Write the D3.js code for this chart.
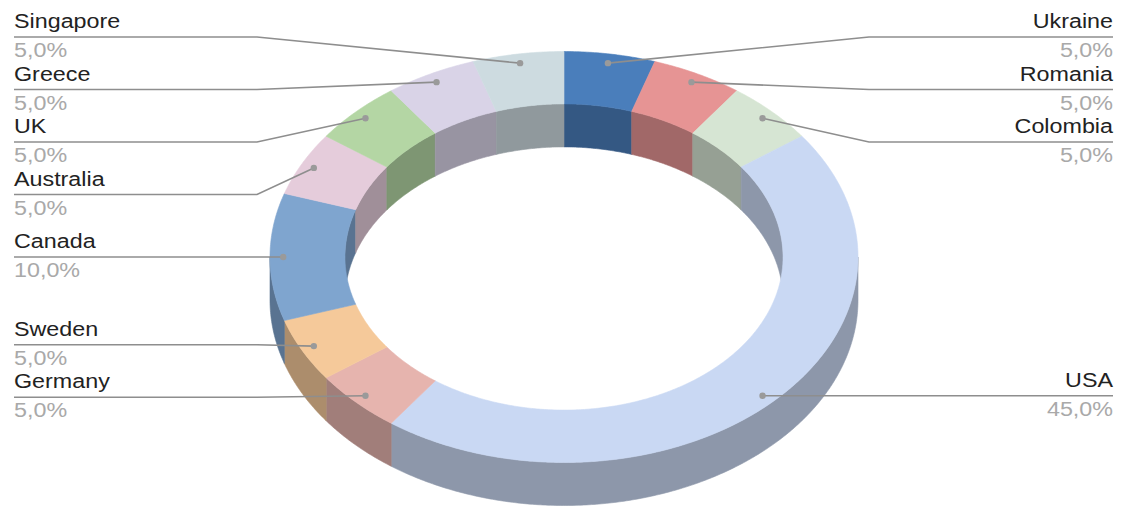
<!DOCTYPE html>
<html>
<head>
<meta charset="utf-8">
<script src="https://cdn.jsdelivr.net/npm/d3@7"></script>
<style>
  html, body { margin: 0; padding: 0; background: #ffffff; }
  svg { display: block; }
  text { font-family: "Liberation Sans", Arial, sans-serif; }
</style>
</head>
<body>
<div id="chart"></div>
<script>
// ---- data ----
const countries = ["Ukraine", "Romania", "Colombia", "USA", "Germany", "Sweden", "Canada", "Australia", "UK", "Greece", "Singapore"];
const shares = [5, 5, 5, 45, 5, 5, 10, 5, 5, 5, 5];
const topColors = ["#4a7ebb", "#e69494", "#d6e5d3", "#c9d8f3", "#e6b4ae", "#f5c99a", "#7fa5cf", "#e5ccdb", "#b4d6a4", "#d9d3e7", "#cddbe0"];

// ---- layout ----
const W = 1126, H = 506;
const cx = 564, cy = 257, rx = 294, ry = 205.5, inner = 0.745, depth = 43;
const dotR = 0.955;
const labelGap = 52.5, minLineY = 37, maxLineY = 470;
const leftX = 14, rightX = 1113;
const elbowL = cx - rx - 13, elbowR = cx + rx + 11;
const textScale = 1.11;

const svg = d3.select("#chart").append("svg").attr("width", W).attr("height", H);

const total = d3.sum(shares);
const data = countries.map((c, i) => ({ name: c, value: shares[i], color: topColors[i] }));
const arcs = d3.pie().value(d => d.value).sort(null).startAngle(0).endAngle(2 * Math.PI)(data);

const pt = (r, a, dy = 0) => [cx + rx * r * Math.sin(a), cy - ry * r * Math.cos(a) + dy];
function arcPts(r, a0, a1, dy) {
  const n = Math.max(2, Math.ceil(Math.abs(a1 - a0) / (Math.PI / 360)));
  return d3.range(n + 1).map(i => pt(r, a0 + (a1 - a0) * i / n, dy));
}
const lineGen = d3.line();
function darker(c, f) {
  const col = d3.rgb(c);
  return d3.rgb(col.r * f, col.g * f, col.b * f).formatHex();
}

const gInnerWalls = svg.append("g");
const gOuterWalls = svg.append("g");
const gTops = svg.append("g");

arcs.forEach(a => {
  const side = darker(a.data.color, 0.7);
  // inner walls (back half visible)
  [[0, Math.PI / 2], [3 * Math.PI / 2, 2 * Math.PI]].forEach(([lo, hi]) => {
    const b0 = Math.max(a.startAngle, lo), b1 = Math.min(a.endAngle, hi);
    if (b1 > b0) {
      const pts = arcPts(inner, b0, b1, 0).concat(arcPts(inner, b1, b0, depth));
      gInnerWalls.append("path").attr("d", lineGen(pts) + "Z")
        .attr("fill", side).attr("stroke", side).attr("stroke-width", 0.6);
    }
  });
  // outer walls (front half visible)
  const o0 = Math.max(a.startAngle, Math.PI / 2), o1 = Math.min(a.endAngle, 3 * Math.PI / 2);
  if (o1 > o0) {
    const pts = arcPts(1, o0, o1, 0).concat(arcPts(1, o1, o0, depth));
    gOuterWalls.append("path").attr("d", lineGen(pts) + "Z")
      .attr("fill", side).attr("stroke", side).attr("stroke-width", 0.6);
  }
  // top face
  const tp = arcPts(1, a.startAngle, a.endAngle, 0).concat(arcPts(inner, a.endAngle, a.startAngle, 0));
  gTops.append("path").attr("d", lineGen(tp) + "Z")
    .attr("fill", a.data.color).attr("stroke", a.data.color).attr("stroke-width", 0.6);
});

// ---- labels ----
const labels = arcs.map(a => {
  const mid = (a.startAngle + a.endAngle) / 2;
  const [dx, dy] = pt(dotR, mid);
  return {
    name: a.data.name,
    pct: (a.data.value / total * 100).toFixed(1).replace(".", ",") + "%",
    dx, dy, right: mid < Math.PI, y: dy
  };
});

function layoutSide(items) {
  items.sort((p, q) => p.dy - q.dy);
  let clusters = items.map(it => ({ items: [it] }));
  function place(cl) {
    const n = cl.items.length;
    let c = d3.mean(cl.items, d => d.dy);
    let top = c - (n - 1) / 2 * labelGap;
    top = Math.max(minLineY, Math.min(top, maxLineY - (n - 1) * labelGap));
    cl.top = top; cl.bottom = top + (n - 1) * labelGap;
    cl.items.forEach((it, i) => it.y = top + i * labelGap);
  }
  clusters.forEach(place);
  let changed = true;
  while (changed) {
    changed = false;
    for (let i = 0; i < clusters.length - 1; i++) {
      if (clusters[i + 1].top - clusters[i].bottom < labelGap - 0.01) {
        const merged = { items: clusters[i].items.concat(clusters[i + 1].items) };
        place(merged);
        clusters.splice(i, 2, merged);
        changed = true;
        break;
      }
    }
  }
}
layoutSide(labels.filter(d => !d.right));
layoutSide(labels.filter(d => d.right));

const gLab = svg.append("g");
labels.forEach(l => {
  const x0 = l.right ? rightX : leftX;
  const ex = l.right ? elbowR : elbowL;
  gLab.append("path")
    .attr("d", lineGen([[x0, l.y], [ex, l.y], [l.dx, l.dy]]))
    .attr("fill", "none").attr("stroke", "#8e8e8e").attr("stroke-width", 1.6);
  gLab.append("circle").attr("cx", l.dx).attr("cy", l.dy).attr("r", 3.2).attr("fill", "#9a9a9a");
  const anchor = l.right ? "end" : "start";
  gLab.append("text")
    .attr("transform", `translate(${x0},${l.y - 9}) scale(${textScale},1)`)
    .attr("text-anchor", anchor).attr("font-size", 21).attr("fill", "#222222")
    .text(l.name);
  gLab.append("text")
    .attr("transform", `translate(${x0},${l.y + 20}) scale(${textScale},1)`)
    .attr("text-anchor", anchor).attr("font-size", 21).attr("fill", "#a9a9a9")
    .text(l.pct);
});
</script>
</body>
</html>
